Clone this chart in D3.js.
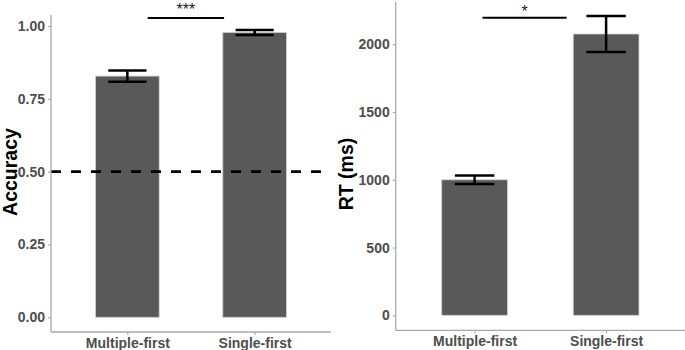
<!DOCTYPE html>
<html>
<head>
<meta charset="utf-8">
<script src="https://cdn.jsdelivr.net/npm/d3@7"></script>
<style>
  html, body { margin: 0; padding: 0; background: #ffffff; }
  svg { display: block; }
  text { font-family: "Liberation Sans", Arial, sans-serif; }
</style>
</head>
<body>
<svg id="chart" width="685" height="350"></svg>
<script>
// ---- data ----
const categories = ["Multiple-first", "Single-first"];
const accMean = [0.828, 0.978];
const accErr = [0.019, 0.0085];
const accTicks = [0, 0.25, 0.5, 0.75, 1.0];
const accChance = 0.5;
const accSig = { from: 1.16, to: 1.76, y: 1.0275, label: "***" };

const rtMean = [1000, 2076];
const rtErr = [31, 133];
const rtTicks = [0, 500, 1000, 1500, 2000];
const rtSig = { from: 1.06, to: 1.70, y: 2196, label: "*" };

const svg = d3.select("#chart");

function panel(opts) {
  const g = svg.append("g");
  const x = d3.scaleLinear().domain([0.4, 2.6]).range([opts.left, opts.right]);
  const y = d3.scaleLinear().domain(opts.yDomain).range(opts.yRange);
  const idx = categories.map((c, i) => i + 1);
  const barW = x(1.5) - x(1);

  // bars
  g.selectAll("rect.bar").data(opts.mean).enter().append("rect")
    .attr("x", (d, i) => x(idx[i]) - barW / 2)
    .attr("width", barW)
    .attr("y", d => y(d))
    .attr("height", d => y(0) - y(d))
    .attr("fill", "#595959")
    .attr("stroke", "#d0d0d0")
    .attr("stroke-width", 0.8);

  // error bars
  const capW = x(1.15) - x(1);
  opts.mean.forEach((m, i) => {
    const cx = x(idx[i]);
    const lo = y(m - opts.err[i]), hi = y(m + opts.err[i]);
    g.append("line").attr("x1", cx).attr("x2", cx).attr("y1", lo).attr("y2", hi)
      .attr("stroke", "#000").attr("stroke-width", 2.5);
    [lo, hi].forEach(yy => g.append("line")
      .attr("x1", cx - capW).attr("x2", cx + capW).attr("y1", yy).attr("y2", yy)
      .attr("stroke", "#000").attr("stroke-width", 2.5));
  });

  // chance line
  if (opts.chance !== undefined) {
    g.append("line").attr("x1", opts.left).attr("x2", opts.right)
      .attr("y1", y(opts.chance)).attr("y2", y(opts.chance))
      .attr("stroke", "#000").attr("stroke-width", 2.6)
      .attr("stroke-dasharray", "10,10");
  }

  // significance
  const s = opts.sig;
  g.append("line").attr("x1", x(s.from)).attr("x2", x(s.to))
    .attr("y1", y(s.y)).attr("y2", y(s.y))
    .attr("stroke", "#000").attr("stroke-width", 2);
  g.append("text").attr("x", (x(s.from) + x(s.to)) / 2).attr("y", y(s.y) - opts.starOff)
    .attr("text-anchor", "middle").attr("font-size", 16).attr("fill", "#222")
    .text(s.label);

  // axes
  const yAxis = g.append("g").attr("transform", `translate(${opts.left},0)`)
    .call(d3.axisLeft(y).tickValues(opts.ticks).tickSize(3).tickPadding(3).tickFormat(opts.fmt));
  yAxis.select(".domain").remove();
  g.append("line").attr("x1", opts.left).attr("x2", opts.left)
    .attr("y1", opts.axisTop).attr("y2", opts.axisBottom)
    .attr("stroke", "#a8a8a8").attr("stroke-width", 1.3);

  const xAxis = g.append("g").attr("transform", `translate(0,${opts.axisBottom})`)
    .call(d3.axisBottom(x).tickValues(idx).tickSize(3).tickPadding(3)
      .tickFormat((d, i) => categories[i]));
  xAxis.select(".domain").remove();
  g.append("line").attr("x1", opts.left).attr("x2", opts.right)
    .attr("y1", opts.axisBottom).attr("y2", opts.axisBottom)
    .attr("stroke", "#a8a8a8").attr("stroke-width", 1.3);

  [yAxis, xAxis].forEach(a => {
    a.selectAll(".tick line").attr("stroke", "#a8a8a8").attr("stroke-width", 1.1);
    a.selectAll(".tick text").attr("fill", "#4d4d4d").attr("font-size", 14)
      .attr("font-weight", "bold").attr("font-family", "'Liberation Sans', Arial, sans-serif");
  });

  // y title
  g.append("text")
    .attr("transform", `translate(${opts.titleX},${opts.titleY}) rotate(-90)`)
    .attr("text-anchor", "middle").attr("font-size", 19.5).attr("font-weight", "bold")
    .attr("fill", "#000").text(opts.title);
}

panel({
  left: 51, right: 331, axisTop: 15, axisBottom: 332,
  yDomain: [0, 1], yRange: [317.3, 26],
  mean: accMean, err: accErr, ticks: accTicks, chance: accChance, sig: accSig,
  fmt: d3.format(".2f"), title: "Accuracy", titleX: 16.5, titleY: 172, starOff: 3
});

panel({
  left: 395.7, right: 685, axisTop: 2, axisBottom: 330.3,
  yDomain: [0, 2000], yRange: [315.3, 44.3],
  mean: rtMean, err: rtErr, ticks: rtTicks, sig: rtSig,
  fmt: d3.format("d"), title: "RT (ms)", titleX: 353, titleY: 174, starOff: 1.2
});
</script>
</body>
</html>
